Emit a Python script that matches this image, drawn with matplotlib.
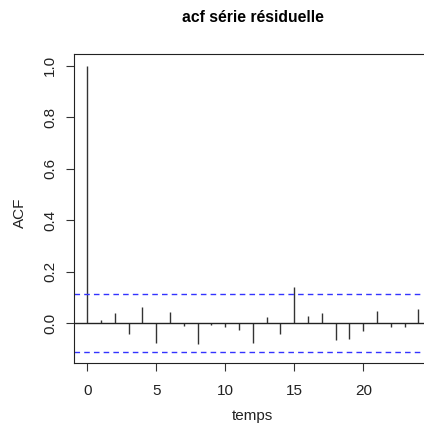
import numpy as np
import matplotlib
matplotlib.use('Agg')
import matplotlib.pyplot as plt

# =============================================================================
# DATA
# =============================================================================
lags = list(range(25))
acf_vals = [1.0, 0.010, 0.039, -0.041, 0.061, -0.076, 0.043, -0.010, -0.080,
            -0.006, -0.014, -0.029, -0.076, 0.023, -0.041, 0.140, 0.026,
            0.039, -0.065, -0.061, -0.030, 0.048, -0.014, -0.017, 0.054]
ci = 0.112   # 95% bound

plt.rcParams['font.family'] = ['Liberation Sans', 'DejaVu Sans']

fig = plt.figure(figsize=(4.24, 4.25), dpi=100)
ax = fig.add_axes([74/424, 1 - 363.3/425, (431.7 - 74)/424, (363.3 - 54.3)/425])

ax.vlines(lags, 0, acf_vals, color='#333333', linewidth=1.0)
ax.axhline(0, color='#222222', linewidth=1.0)
ax.axhline(ci, color='#3333ff', linewidth=1.0, linestyle=(0, (4, 3)))
ax.axhline(-ci, color='#3333ff', linewidth=1.0, linestyle=(0, (4, 3)))

ax.set_xlim(-0.96, 24.96)
ax.set_ylim(-0.1565, 1.0445)
ax.set_xticks([0, 5, 10, 15, 20])
ax.set_yticks([0.0, 0.2, 0.4, 0.6, 0.8, 1.0])
ax.set_yticklabels(['0.0', '0.2', '0.4', '0.6', '0.8', '1.0'],
                   rotation=90, va='center')
ax.tick_params(labelsize=11, length=6, color='#333333', labelcolor='#222222')
ax.tick_params(axis='x', pad=9)
ax.tick_params(axis='y', pad=6)
for sp in ax.spines.values():
    sp.set_color('#222222')

# axis labels and title placed like R's margins
cx = (74 + 431.7) / 2 / 424
fig.text(cx, 1 - 416/425, 'temps', ha='center', va='center',
         fontsize=11, color='#222222')
fig.text(20/424, 1 - 213/425, 'ACF', ha='center', va='center',
         rotation=90, fontsize=11, color='#222222')
fig.text(cx, 1 - 18/425, 'acf série résiduelle',
         ha='center', va='center', fontsize=11.3, fontweight='bold')

fig.savefig('out.png', dpi=100)
